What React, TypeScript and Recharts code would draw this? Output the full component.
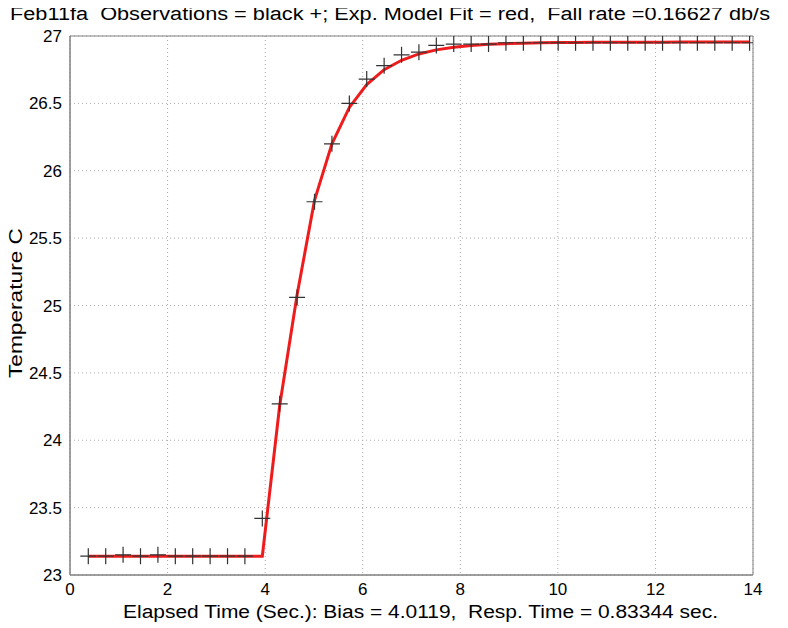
import React from "react";
import {
  ComposedChart,
  Line,
  Scatter,
  XAxis,
  YAxis,
  CartesianGrid,
  ReferenceArea,
} from "recharts";

// Observation times (s)
const obsTime = [
  0.375, 0.732, 1.088, 1.445, 1.802, 2.159, 2.515, 2.872, 3.229, 3.585,
  3.942, 4.299, 4.655, 5.012, 5.369, 5.726, 6.082, 6.439, 6.796, 7.152,
  7.509, 7.866, 8.223, 8.579, 8.936, 9.293, 9.649, 10.006, 10.363, 10.72,
  11.076, 11.433, 11.79, 12.146, 12.503, 12.86, 13.217, 13.573, 13.93,
];
// Observed temperatures (black +)
const obsTemp = [
  23.14, 23.14, 23.15, 23.14, 23.15, 23.14, 23.14, 23.14, 23.14, 23.14,
  23.42, 24.27, 25.06, 25.77, 26.2, 26.5, 26.68, 26.78, 26.86, 26.88,
  26.93, 26.94, 26.94, 26.94, 26.95, 26.95, 26.95, 26.95, 26.95, 26.95,
  26.95, 26.95, 26.95, 26.95, 26.95, 26.95, 26.95, 26.95, 26.95,
];
// Exponential model fit (red)
const fitTemp = [
  23.14, 23.14, 23.14, 23.14, 23.14, 23.14, 23.14, 23.14, 23.14, 23.14,
  23.14, 24.26, 25.08, 25.78, 26.2, 26.47, 26.64, 26.75, 26.82, 26.867,
  26.897, 26.916, 26.929, 26.938, 26.943, 26.947, 26.949, 26.951, 26.952, 26.953,
  26.953, 26.954, 26.954, 26.954, 26.955, 26.955, 26.955, 26.955, 26.955,
];

const xTicks = [0, 2, 4, 6, 8, 10, 12, 14];
const yTicks = [23, 23.5, 24, 24.5, 25, 25.5, 26, 26.5, 27];

const titleText =
  "Feb11fa  Observations = black +; Exp. Model Fit = red,  Fall rate =0.16627 db/s";
const xLabelText =
  "Elapsed Time (Sec.): Bias = 4.0119,  Resp. Time = 0.83344 sec.";
const yLabelText = "Temperature C";

const obsData = obsTime.map((t, i) => ({ t, v: obsTemp[i] }));
const fitData = obsTime.map((t, i) => ({ t, v: fitTemp[i] }));

const FONT = "'Liberation Sans', Arial, sans-serif";

const Plus = (props: any) => {
  const { cx, cy } = props;
  if (cx == null || cy == null) return null;
  return (
    <path
      d={`M${cx - 8},${cy}H${cx + 8}M${cx},${cy - 8}V${cy + 8}`}
      stroke="#333"
      strokeWidth={1.2}
      fill="none"
    />
  );
};

export default function App() {
  const W = 780;
  const H = 620;
  return (
    <div style={{ position: "relative", width: W, height: H, background: "#fff" }}>
      <ComposedChart
        width={W}
        height={H}
        margin={{ top: 28, right: 35, left: 0, bottom: 23 }}
      >
        <CartesianGrid
          stroke="#aaa"
          strokeDasharray="1 3"
          horizontalValues={yTicks}
          verticalValues={xTicks}
        />
        <XAxis
          type="number"
          dataKey="t"
          domain={[0, 14]}
          ticks={xTicks}
          allowDataOverflow
          tickLine={false}
          axisLine={{ stroke: "#808080" }}
          height={30}
          tick={{ fill: "#000", fontSize: 17, fontFamily: FONT }}
          interval={0}
        />
        <YAxis
          type="number"
          dataKey="v"
          domain={[23, 27]}
          ticks={yTicks}
          allowDataOverflow
          tickLine={false}
          axisLine={{ stroke: "#808080" }}
          width={62}
          tick={{ fill: "#000", fontSize: 17, fontFamily: FONT }}
          interval={0}
        />
        <ReferenceArea
          x1={0}
          x2={14}
          y1={23}
          y2={27}
          fill="none"
          stroke="#808080"
          strokeWidth={1}
          ifOverflow="visible"
        />
        <Scatter
          data={obsData}
          dataKey="v"
          shape={<Plus />}
          isAnimationActive={false}
        />
        <Line
          data={fitData}
          dataKey="v"
          type="linear"
          stroke="#ee1c1c"
          strokeWidth={3}
          dot={false}
          activeDot={false}
          isAnimationActive={false}
        />
      </ComposedChart>
      <svg
        width={788}
        height={628}
        style={{ position: "absolute", left: -8, top: -8, pointerEvents: "none" }}
      >
        <text
          x={10}
          y={20}
          fontSize={18}
          fontFamily={FONT}
          fill="#000"
          xmlSpace="preserve"
          style={{ whiteSpace: "pre" }}
          textLength={760}
          lengthAdjust="spacingAndGlyphs"
        >
          {titleText}
        </text>
        <text
          x={123}
          y={618}
          fontSize={18}
          fontFamily={FONT}
          fill="#000"
          xmlSpace="preserve"
          style={{ whiteSpace: "pre" }}
          textLength={595}
          lengthAdjust="spacingAndGlyphs"
        >
          {xLabelText}
        </text>
        <text
          transform="translate(22, 303) rotate(-90)"
          x={0}
          y={0}
          textAnchor="middle"
          fontSize={18}
          fontFamily={FONT}
          fill="#000"
          textLength={150}
          lengthAdjust="spacingAndGlyphs"
        >
          {yLabelText}
        </text>
      </svg>
    </div>
  );
}
